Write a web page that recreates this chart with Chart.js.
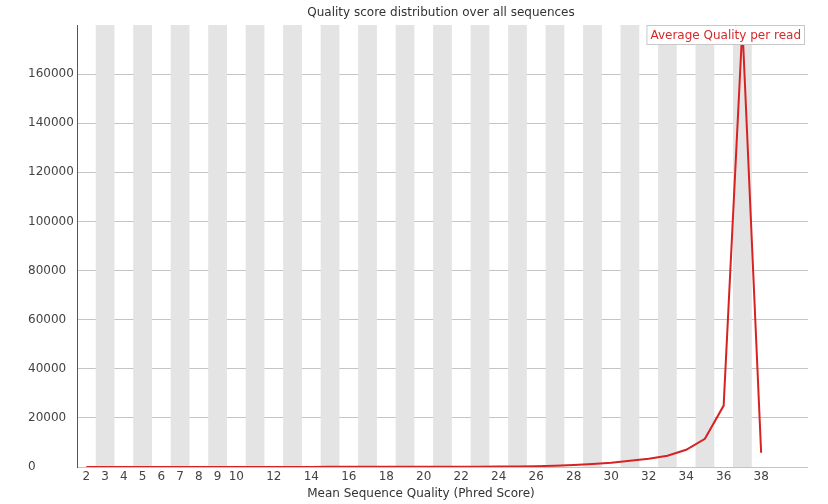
<!DOCTYPE html>
<html lang="en">
  <head>
    <meta charset="UTF-8" />
    <title>Quality score distribution over all sequences</title>
    <style>
      html, body { margin: 0; padding: 0; background: #ffffff; }
      #wrap { width: 828px; height: 504px; }
    </style>
  </head>
  <body>
    <div id="wrap"><canvas id="qualChart" width="828" height="504"></canvas></div>

    <script src="https://cdn.jsdelivr.net/npm/chart.js"></script>
    <script>
      // Mean Phred score categories and read counts
      const phredScores = [2, 3, 4, 5, 6, 7, 8, 9, 10, 11, 12, 13, 14, 15, 16, 17, 18, 19, 20,
        21, 22, 23, 24, 25, 26, 27, 28, 29, 30, 31, 32, 33, 34, 35, 36, 37, 38];
      const readCounts = [5, 8, 10, 12, 15, 18, 22, 25, 30, 35, 40, 45, 50, 55, 60, 65, 70, 80, 90,
        100, 110, 130, 160, 220, 330, 520, 800, 1200, 1750, 2500, 3400, 4600, 7000, 11500, 25000, 179500, 5800];

      // tick labels shown on the axes
      const xTickLabels = [2, 3, 4, 5, 6, 7, 8, 9, 10, 12, 14, 16, 18, 20, 22, 24, 26, 28, 30, 32, 34, 36, 38];
      const yTickLabels = [0, 20000, 40000, 60000, 80000, 100000, 120000, 140000, 160000];

      const chartTitle = "Quality score distribution over all sequences";
      const xAxisTitle = "Mean Sequence Quality (Phred Score)";
      const seriesLabel = "Average Quality per read";

      const FONT = "DejaVu Sans";

      // grey bands behind every odd category
      const bandsPlugin = {
        id: "bands",
        beforeDatasetsDraw(chart) {
          const { ctx, chartArea, scales } = chart;
          const x = scales.x;
          ctx.save();
          ctx.fillStyle = "#e4e4e4";
          phredScores.forEach((q) => {
            if (q % 2 === 1) {
              const l = x.getPixelForValue(q - 0.5);
              const r = x.getPixelForValue(q + 0.5);
              ctx.fillRect(l, chartArea.top, r - l, chartArea.bottom - chartArea.top);
            }
          });
          ctx.restore();
        },
      };

      // titles and the boxed legend
      const textPlugin = {
        id: "texts",
        afterDatasetsDraw(chart) {
          const { ctx, chartArea } = chart;
          ctx.save();
          ctx.font = "12px '" + FONT + "'";
          ctx.fillStyle = "#333333";
          ctx.textAlign = "center";
          ctx.textBaseline = "middle";
          ctx.fillText(chartTitle, 441, 13);
          ctx.fillText(xAxisTitle, 421, 494);

          // legend box
          const w = ctx.measureText(seriesLabel).width + 8;
          const right = chartArea.right - 3;
          const top = chartArea.top;
          ctx.fillStyle = "#ffffff";
          ctx.fillRect(right - w, top, w, 20);
          ctx.strokeStyle = "#c8c8c8";
          ctx.lineWidth = 1;
          ctx.strokeRect(right - w + 0.5, top + 0.5, w - 1, 19);
          ctx.fillStyle = "#d42a2a";
          ctx.textAlign = "left";
          ctx.fillText(seriesLabel, right - w + 4, top + 11);
          ctx.restore();
        },
      };

      new Chart(document.getElementById("qualChart"), {
        type: "line",
        data: {
          datasets: [
            {
              label: seriesLabel,
              data: phredScores.map((q, i) => ({ x: q, y: readCounts[i] })),
              borderColor: "#d82222",
              borderWidth: 2,
              pointRadius: 0,
              tension: 0,
              fill: false,
            },
          ],
        },
        options: {
          responsive: false,
          animation: false,
          layout: { padding: { left: 28, right: 20, top: 25, bottom: 0 } },
          plugins: {
            legend: { display: false },
            title: { display: false },
            tooltip: { enabled: false },
          },
          scales: {
            x: {
              type: "linear",
              min: 1.5,
              max: 40.5,
              afterBuildTicks: (s) => { s.ticks = xTickLabels.map((v) => ({ value: v })); },
              afterFit: (s) => { s.height = 37; },
              grid: { display: false, drawTicks: false },
              border: { display: false },
              ticks: {
                autoSkip: false,
                maxRotation: 0,
                padding: 3,
                color: "#444444",
                font: { family: FONT, size: 12 },
              },
            },
            y: {
              min: 0,
              max: 180000,
              afterBuildTicks: (s) => { s.ticks = yTickLabels.map((v) => ({ value: v })); },
              afterFit: (s) => { s.width = 49; },
              grid: { color: "#c4c4c4", lineWidth: 1, drawTicks: false },
              border: { color: "#555555", width: 1 },
              ticks: {
                crossAlign: "far",
                padding: 3,
                color: "#444444",
                font: { family: FONT, size: 12 },
                callback: (v) => String(v),
              },
            },
          },
        },
        plugins: [bandsPlugin, textPlugin],
      });
    </script>
  </body>
</html>
